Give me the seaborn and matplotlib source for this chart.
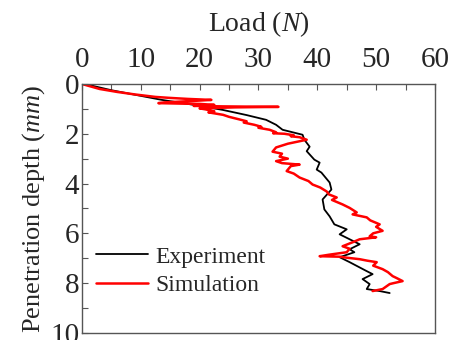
import pandas as pd
import matplotlib
matplotlib.use("Agg")
import matplotlib.pyplot as plt
import seaborn as sns
from matplotlib.ticker import MultipleLocator

# experiment curve (load in N, depth in mm)
exp_load = [0, 1.2, 5, 13.6, 18, 23.9, 28, 31.3, 33, 34.1, 37.5, 37.8, 38.7, 38.2,
            39.5, 40.4, 39.9, 40.7, 42.1, 42.4, 40.9, 41.2, 42.1, 42.9, 45.0, 43.8,
            47.2, 45.5, 46.3, 43.8, 45.5, 48.4, 49.4, 47.7, 48.9, 48.4, 50.6, 52.3]
exp_depth = [0, 0.04, 0.25, 0.64, 0.8, 1.04, 1.25, 1.44, 1.64, 1.84, 2.04, 2.24, 2.52, 2.7,
             3.04, 3.16, 3.44, 3.56, 3.96, 4.24, 4.64, 5.04, 5.32, 5.64, 5.84, 6.04,
             6.44, 6.64, 6.76, 6.96, 7.16, 7.52, 7.64, 7.84, 8.04, 8.24, 8.32, 8.4]

# simulation curve
sim_load = [0, 1.5, 3, 6, 9, 12.5, 15, 18, 20, 22, 19, 14, 13, 17, 20, 22.5, 21, 19, 24, 33.4,
            26, 20, 21, 22.5, 21.5, 24, 25, 26.7, 28, 27.5, 29.3, 30.5, 30, 31.9, 33, 32.5,
            34.4, 36, 35.5, 37, 38.2, 37, 35, 33, 32.4, 34, 33.6, 35, 33, 34, 37, 35.5,
            34.8, 36, 37, 38.5, 39.2, 40.5, 41.6, 42, 43.3, 42.5, 44.3, 45.5, 46.7, 46,
            48.4, 49, 50.6, 50, 51.1, 49.5, 48.9, 50, 47.2, 46, 44.3, 45.5, 45, 42, 40.4,
            43.8, 45, 47.2, 48.5, 50.1, 49.5, 51.1, 52, 52.8, 53.5, 54.5, 53, 52.3, 51.1, 49.4]
sim_depth = [0, 0.1, 0.2, 0.32, 0.42, 0.52, 0.56, 0.6, 0.62, 0.64, 0.68, 0.74, 0.77, 0.79, 0.8,
             0.84, 0.86, 0.88, 0.9, 0.92, 0.94, 0.98, 1.02, 1.1, 1.14, 1.24, 1.32, 1.42, 1.5,
             1.55, 1.64, 1.72, 1.76, 1.84, 1.94, 1.98, 2.0, 2.06, 2.1, 2.14, 2.24, 2.3, 2.4,
             2.55, 2.72, 2.8, 2.92, 3.0, 3.1, 3.18, 3.24, 3.3, 3.5, 3.6, 3.76, 3.9, 4.04,
             4.16, 4.32, 4.44, 4.56, 4.66, 4.84, 4.98, 5.16, 5.24, 5.36, 5.48, 5.64, 5.74,
             5.9, 6.0, 6.12, 6.16, 6.24, 6.36, 6.52, 6.62, 6.76, 6.86, 6.92, 6.94, 6.98,
             7.04, 7.1, 7.16, 7.3, 7.44, 7.56, 7.72, 7.8, 7.92, 8.0, 8.04, 8.24, 8.32]

exp = pd.DataFrame({"load": exp_load, "depth": exp_depth})
sim = pd.DataFrame({"load": sim_load, "depth": sim_depth})

sns.set_theme(style="ticks")
plt.rcParams["font.family"] = ["Liberation Serif", "DejaVu Serif"]
plt.rcParams["mathtext.fontset"] = "custom"
plt.rcParams["mathtext.rm"] = "Liberation Serif"
plt.rcParams["mathtext.it"] = "Liberation Serif:italic"

fig = plt.figure(figsize=(4.55, 3.4), dpi=100)
ax = fig.add_axes([0.180, 0.021, 0.776, 0.732])

sns.lineplot(data=exp, x="load", y="depth", sort=False, estimator=None,
             color="black", linewidth=1.3, label="Experiment", ax=ax)
sns.lineplot(data=sim, x="load", y="depth", sort=False, estimator=None,
             color="#ff0000", linewidth=1.8, label="Simulation", ax=ax)

ax.set_xlim(0, 60)
ax.set_ylim(10, 0)
ax.xaxis.tick_top()
ax.xaxis.set_label_position("top")
ax.xaxis.set_major_locator(MultipleLocator(10))
ax.xaxis.set_minor_locator(MultipleLocator(5))
ax.yaxis.set_major_locator(MultipleLocator(2))
ax.yaxis.set_minor_locator(MultipleLocator(1))
ax.tick_params(which="both", direction="in", length=4, width=0.8, color="#555555",
               labelsize=21, top=True, bottom=False, right=False, pad=2)
ax.tick_params(axis="x", which="both", labeltop=True, labelbottom=False, pad=8)

for s in ax.spines.values():
    s.set_color("#555555")
    s.set_linewidth(1.0)

ax.set_xlabel("Load ($\\mathit{N}$)", fontsize=20, labelpad=11)
ax.set_ylabel("Penetration depth ($\\mathit{mm}$)", fontsize=19, labelpad=2)

ax.legend(loc="lower left", bbox_to_anchor=(0.0, 0.09), frameon=False, fontsize=17,
          handlelength=2.2, handletextpad=0.3, labelspacing=0.3, borderaxespad=0.2)

fig.savefig("out.png", dpi=100)
